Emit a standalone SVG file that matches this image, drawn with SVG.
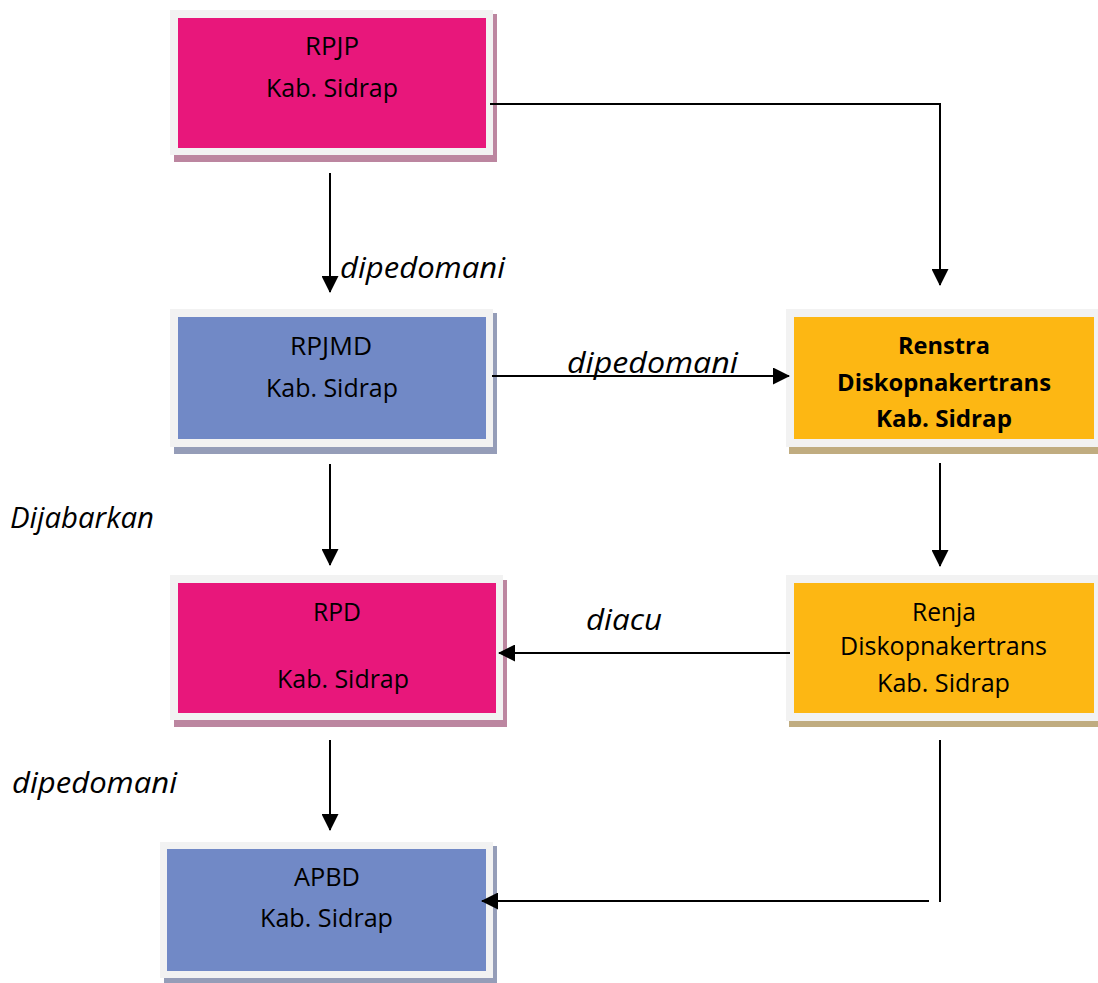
<svg xmlns="http://www.w3.org/2000/svg" width="1098" height="983" viewBox="0 0 1098 983">
<style>
.frame{fill:#F2F2F2}
.pink{fill:#E8177B}
.blue{fill:#7189C6}
.orange{fill:#FDB713}
.shp{fill:#BC86A0}
.shb{fill:#959DB8}
.sho{fill:#C0AC80}
text{font-family:"Open Sans","Noto Sans","Liberation Sans",sans-serif;fill:#000;text-anchor:middle}
.t{font-size:25px}
.b{font-size:24px;font-weight:bold}
.i{font-size:29px;font-style:italic;text-anchor:start}
.c{fill:none;stroke:#000;stroke-width:2}
</style>
<defs>
<marker id="ah" markerUnits="userSpaceOnUse" markerWidth="17" markerHeight="17" refX="16" refY="8.5" orient="auto">
<path d="M0,0 L17,8.5 L0,17 Z" fill="#000"/>
</marker>
</defs>
<rect width="1098" height="983" fill="#fff"/>
<g id="rpjp">
<rect class="shp" x="174" y="14" width="323" height="148"/>
<rect class="frame" x="170" y="10" width="323" height="145"/>
<rect class="pink" x="178" y="18" width="308" height="130"/>
<text class="t" x="332" y="55" textLength="54" lengthAdjust="spacingAndGlyphs">RPJP</text>
<text class="t" x="332" y="97" textLength="132" lengthAdjust="spacingAndGlyphs">Kab. Sidrap</text>
</g>
<g id="rpjmd">
<rect class="shb" x="174" y="313" width="323" height="141"/>
<rect class="frame" x="170" y="309" width="323" height="138"/>
<rect class="blue" x="178" y="317" width="308" height="122"/>
<text class="t" x="331" y="355" textLength="82" lengthAdjust="spacingAndGlyphs">RPJMD</text>
<text class="t" x="332" y="397" textLength="132" lengthAdjust="spacingAndGlyphs">Kab. Sidrap</text>
</g>
<g id="renstra">
<rect class="sho" x="789" y="313" width="309" height="141"/>
<rect class="frame" x="786" y="309" width="312" height="138"/>
<rect class="orange" x="794" y="317" width="300" height="122"/>
<text class="b" x="944" y="354" textLength="92" lengthAdjust="spacingAndGlyphs">Renstra</text>
<text class="b" x="944" y="391" textLength="214" lengthAdjust="spacingAndGlyphs">Diskopnakertrans</text>
<text class="b" x="944" y="427" textLength="136" lengthAdjust="spacingAndGlyphs">Kab. Sidrap</text>
</g>
<g id="rpd">
<rect class="shp" x="174" y="580" width="333" height="147"/>
<rect class="frame" x="170" y="575" width="333" height="145"/>
<rect class="pink" x="178" y="583" width="318" height="130"/>
<text class="t" x="337" y="621" textLength="48" lengthAdjust="spacingAndGlyphs">RPD</text>
<text class="t" x="343" y="688" textLength="132" lengthAdjust="spacingAndGlyphs">Kab. Sidrap</text>
</g>
<g id="renja">
<rect class="sho" x="789" y="580" width="309" height="147"/>
<rect class="frame" x="786" y="575" width="312" height="146"/>
<rect class="orange" x="794" y="583" width="300" height="130"/>
<text class="t" x="944" y="621" textLength="64" lengthAdjust="spacingAndGlyphs">Renja</text>
<text class="t" x="943.5" y="655" textLength="207" lengthAdjust="spacingAndGlyphs">Diskopnakertrans</text>
<text class="t" x="943.5" y="692" textLength="133" lengthAdjust="spacingAndGlyphs">Kab. Sidrap</text>
</g>
<g id="apbd">
<rect class="shb" x="164" y="846" width="333" height="137"/>
<rect class="frame" x="160" y="842" width="333" height="136"/>
<rect class="blue" x="167" y="849" width="319" height="122"/>
<text class="t" x="327" y="886" textLength="66" lengthAdjust="spacingAndGlyphs">APBD</text>
<text class="t" x="326.5" y="927" textLength="133" lengthAdjust="spacingAndGlyphs">Kab. Sidrap</text>
</g>
<g id="connectors">
<path class="c" d="M330,173 V292" marker-end="url(#ah)"/>
<path class="c" d="M490,104 H940 V285" stroke-width="1.6" marker-end="url(#ah)"/>
<path class="c" d="M492,376 H789" marker-end="url(#ah)"/>
<path class="c" d="M330,464 V565" marker-end="url(#ah)"/>
<path class="c" d="M940,463 V566" marker-end="url(#ah)"/>
<path class="c" d="M790,653 H499" marker-end="url(#ah)"/>
<path class="c" d="M330,740 V830" marker-end="url(#ah)"/>
<path class="c" d="M940,740 V902"/>
<path class="c" d="M929,901 H482" marker-end="url(#ah)"/>
</g>
<g id="labels">
<text class="i" x="340" y="278" textLength="165" lengthAdjust="spacingAndGlyphs">dipedomani</text>
<text class="i" x="567" y="373" textLength="171" lengthAdjust="spacingAndGlyphs">dipedomani</text>
<text class="i" x="10" y="528" textLength="144" lengthAdjust="spacingAndGlyphs">Dijabarkan</text>
<text class="i" x="586" y="630" textLength="76" lengthAdjust="spacingAndGlyphs">diacu</text>
<text class="i" x="12" y="793" textLength="165" lengthAdjust="spacingAndGlyphs">dipedomani</text>
</g>
</svg>
